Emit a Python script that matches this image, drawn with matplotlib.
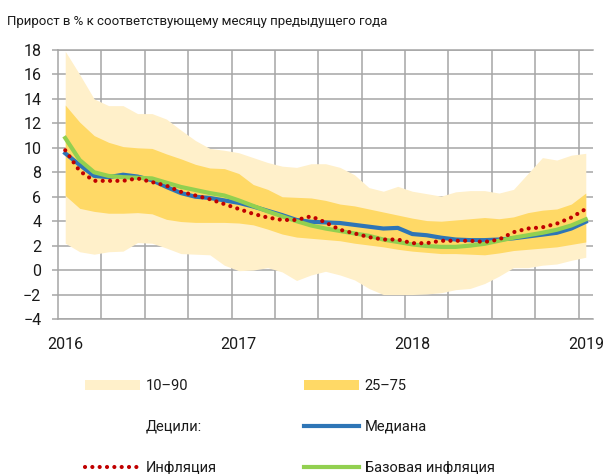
import numpy as np
import matplotlib
matplotlib.use("Agg")
import matplotlib.pyplot as plt
from matplotlib.patches import Patch
from matplotlib.lines import Line2D

plt.rcParams['font.family'] = ['Roboto', 'DejaVu Sans']

# месяцы: январь 2016 ... январь 2019
months = np.arange(37)
year_pos = [0, 12, 24, 36]
year_labels = ['2016', '2017', '2018', '2019']

# децили ожиданий
p90 = [17.9, 16.0, 14.0, 13.45, 13.45, 12.8, 12.8, 12.35, 11.45, 10.6, 9.95, 9.8,
       9.6, 9.2, 8.8, 8.5, 8.4, 8.7, 8.7, 8.4, 7.8, 6.75, 6.45, 6.85,
       6.45, 6.25, 6.05, 6.4, 6.5, 6.5, 6.3, 6.6, 7.9, 9.2, 9.0, 9.4, 9.55]
p75 = [13.5, 12.1, 11.0, 10.45, 10.1, 10.0, 9.95, 9.5, 9.1, 8.65, 8.35, 8.3,
       7.9, 7.0, 6.6, 6.0, 5.95, 5.9, 5.7, 5.4, 5.25, 5.0, 4.75, 4.5,
       4.25, 4.05, 4.0, 4.1, 4.2, 4.3, 4.2, 4.35, 4.7, 4.9, 5.0, 5.4, 6.3]
p25 = [6.1, 5.05, 4.8, 4.65, 4.65, 4.7, 4.6, 4.15, 3.97, 3.9, 3.9, 3.9,
       3.85, 3.7, 3.35, 2.95, 2.7, 2.6, 2.5, 2.4, 2.2, 2.05, 1.9, 1.7,
       1.55, 1.45, 1.35, 1.35, 1.3, 1.25, 1.4, 1.6, 1.7, 1.8, 1.9, 2.1, 2.3]
p10 = [2.2, 1.5, 1.3, 1.5, 1.55, 2.25, 2.2, 1.8, 1.35, 1.3, 1.25, 0.4,
       -0.05, 0.0, 0.2, -0.15, -0.85, -0.4, -0.1, -0.4, -0.8, -1.5, -2.0, -2.0,
       -2.0, -1.95, -1.85, -1.6, -1.5, -1.1, -0.5, 0.2, 0.2, 0.4, 0.5, 0.8, 1.05]
median = [9.55, 8.6, 7.7, 7.6, 7.8, 7.65, 7.35, 6.8, 6.3, 6.0, 5.9, 5.7,
          5.5, 5.2, 4.85, 4.5, 4.1, 3.95, 3.9, 3.85, 3.7, 3.55, 3.4, 3.45,
          2.95, 2.85, 2.65, 2.5, 2.45, 2.45, 2.5, 2.6, 2.75, 2.9, 3.05, 3.4, 3.95]
inflation = [9.8, 8.1, 7.3, 7.3, 7.3, 7.5, 7.2, 6.9, 6.4, 6.1, 5.8, 5.4,
             5.0, 4.6, 4.3, 4.1, 4.1, 4.4, 3.9, 3.3, 3.0, 2.7, 2.5, 2.5,
             2.2, 2.2, 2.4, 2.4, 2.4, 2.3, 2.5, 3.1, 3.4, 3.5, 3.8, 4.3, 5.0]
core = [10.8, 9.0, 8.0, 7.7, 7.6, 7.55, 7.5, 7.15, 6.8, 6.55, 6.3, 6.1,
        5.7, 5.25, 4.8, 4.4, 4.0, 3.65, 3.4, 3.2, 3.0, 2.8, 2.5, 2.3,
        2.1, 1.97, 1.9, 1.9, 2.0, 2.15, 2.4, 2.65, 2.85, 3.05, 3.3, 3.65, 4.15]

c_light = '#FFF0CA'
c_band = '#FFD966'
c_med = '#2E75B6'
c_core = '#92D050'
c_infl = '#C00000'
c_grid = '#A6A6A6'
c_text = '#1a1a1a'

fig = plt.figure(figsize=(6.06, 4.74), dpi=100)
ax = fig.add_axes([58 / 606, 1 - 319 / 474, 535 / 606, 269 / 474])

ax.fill_between(months, p10, p90, color=c_light, lw=0, zorder=2)
ax.fill_between(months, p25, p75, color=c_band, lw=0, zorder=3)
ax.plot(months, median, color=c_med, lw=3, zorder=4)
ax.plot(months, core, color=c_core, lw=3, zorder=5)
ax.plot(months, inflation, color=c_infl, lw=3, ls=(0, (0.01, 1.75)),
        dash_capstyle='round', zorder=6)

ax.set_xlim(-0.5, 36.5)
ax.set_ylim(-4, 18)
ax.set_yticks(np.arange(-4, 19, 2))
ax.set_xticks(year_pos)
ax.set_xticklabels(year_labels)
ax.set_xticks(np.arange(2.5, 36, 3), minor=True)

ax.grid(axis='y', which='major', color=c_grid, lw=1.1, zorder=1)
ax.grid(axis='x', which='minor', color=c_grid, lw=1.1, zorder=1)
ax.set_axisbelow(True)
for s in ['top', 'bottom', 'left']:
    ax.spines[s].set_color(c_grid)
    ax.spines[s].set_linewidth(1.1)
ax.spines['right'].set_visible(False)

ax.tick_params(axis='y', length=4, width=1.1, color=c_grid, pad=8,
               labelsize=11.5, labelcolor=c_text)
ax.tick_params(axis='x', which='both', length=0, pad=13,
               labelsize=11.5, labelcolor=c_text)

fig.text(7 / 606, 1 - 21 / 474,
         'Прирост в % к соответствующему месяцу предыдущего года',
         ha='left', va='center', fontsize=9.5, color=c_text)

# легенда в два столбца
h_light = Patch(facecolor=c_light, edgecolor='none')
h_band = Patch(facecolor=c_band, edgecolor='none')
h_none = Line2D([], [], color='none')
h_med = Line2D([], [], color=c_med, lw=3)
h_core = Line2D([], [], color=c_core, lw=3)
h_infl = Line2D([], [], color=c_infl, lw=3, ls=(0, (0.01, 1.75)),
                dash_capstyle='round')

leg_kw = dict(loc='upper left', frameon=False, fontsize=10.5, borderpad=0,
              borderaxespad=0, handlelength=3.75, handletextpad=0.42,
              labelspacing=1.85, handleheight=0.75, labelcolor=c_text)
fig.legend([h_light, h_none, h_infl], ['10–90', 'Децили:', 'Инфляция'],
           bbox_to_anchor=(85 / 606, 1 - 379 / 474), **leg_kw)
fig.legend([h_band, h_med, h_core], ['25–75', 'Медиана', 'Базовая инфляция'],
           bbox_to_anchor=(304 / 606, 1 - 379 / 474), **leg_kw)

fig.savefig('out.png', dpi=100)
